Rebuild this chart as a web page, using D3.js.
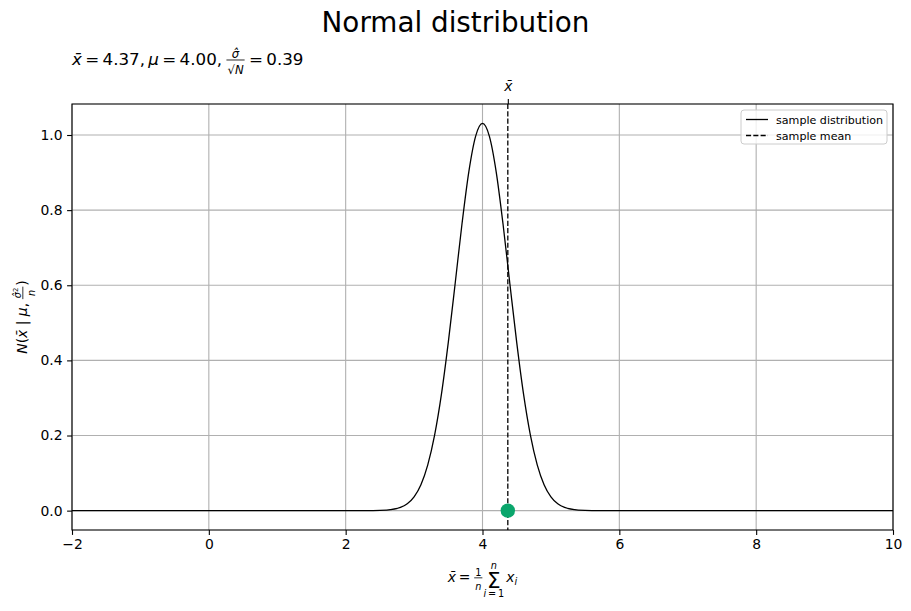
<!DOCTYPE html>
<html>
<head>
<meta charset="utf-8">
<script src="https://cdn.jsdelivr.net/npm/d3@7/dist/d3.min.js"></script>
<style>
  html, body { margin: 0; padding: 0; background: #fff; }
  svg { display: block; font-family: "DejaVu Sans", sans-serif; }
</style>
</head>
<body>
<svg id="chart" width="911" height="611"></svg>
<script>
// ---- data ----
const curveX = [-2, 0, 1, 2, 2.4, 2.6, 2.8, 2.9, 3.0, 3.1, 3.2, 3.3, 3.4, 3.5, 3.6, 3.7, 3.8, 3.9,
                4.0, 4.1, 4.2, 4.3, 4.4, 4.5, 4.6, 4.7, 4.8, 4.9, 5.0, 5.1, 5.2, 5.4, 5.6, 6, 7, 8, 10];
const curveY = [0, 0, 0, 0, 0.0002, 0.0015, 0.0084, 0.0182, 0.0366, 0.069, 0.122, 0.201, 0.310, 0.448, 0.604, 0.763, 0.902, 0.997,
                1.031, 0.997, 0.902, 0.763, 0.604, 0.448, 0.310, 0.201, 0.122, 0.069, 0.0366, 0.0182, 0.0084, 0.0015, 0.0002, 0, 0, 0, 0];
const sampleMean = 4.37;
const xTicks = [-2, 0, 2, 4, 6, 8, 10];
const yTicks = [0.0, 0.2, 0.4, 0.6, 0.8, 1.0];
const legendLabels = ["sample distribution", "sample mean"];

// ---- layout ----
const W = 911, H = 611;
const m = { left: 72, right: 893, top: 104, bottom: 530 };
const svg = d3.select("#chart");

const x = d3.scaleLinear().domain([-2, 10]).range([m.left, m.right]);
const yMax = d3.max(curveY);
const y = d3.scaleLinear().domain([-0.05 * yMax, 1.05 * yMax]).range([m.bottom, m.top]);

// grid
const grid = svg.append("g").attr("stroke", "#b0b0b0").attr("stroke-width", 1.1);
grid.selectAll(".gx").data(xTicks).join("line")
  .attr("x1", d => x(d)).attr("x2", d => x(d)).attr("y1", m.top).attr("y2", m.bottom);
grid.selectAll(".gy").data(yTicks).join("line")
  .attr("y1", d => y(d)).attr("y2", d => y(d)).attr("x1", m.left).attr("x2", m.right);

// clip
svg.append("clipPath").attr("id", "clip").append("rect")
  .attr("x", m.left).attr("y", m.top).attr("width", m.right - m.left).attr("height", m.bottom - m.top);

const plot = svg.append("g").attr("clip-path", "url(#clip)");

const line = d3.line().x((d, i) => x(curveX[i])).y(d => y(d)).curve(d3.curveMonotoneX);
plot.append("path").datum(curveY)
  .attr("d", line).attr("fill", "none").attr("stroke", "#000").attr("stroke-width", 1.3);

plot.append("line")
  .attr("x1", x(sampleMean)).attr("x2", x(sampleMean)).attr("y1", m.top).attr("y2", m.bottom)
  .attr("stroke", "#000").attr("stroke-width", 1.3).attr("stroke-dasharray", "5.1,2.2");

svg.append("circle").attr("cx", x(sampleMean)).attr("cy", y(0)).attr("r", 7.2).attr("fill", "#0aa66c");

// axes
const xAxis = svg.append("g").attr("transform", `translate(0,${m.bottom})`)
  .call(d3.axisBottom(x).tickValues(xTicks).tickSize(4.9).tickPadding(4.5)
    .tickFormat(d => d3.format("d")(d).replace("-", "\u2212")));
const yAxis = svg.append("g").attr("transform", `translate(${m.left},0)`)
  .call(d3.axisLeft(y).tickValues(yTicks).tickSize(4.9).tickPadding(4.5).tickFormat(d3.format(".1f")));
const topAxis = svg.append("g").attr("transform", `translate(0,${m.top})`)
  .call(d3.axisTop(x).tickValues([sampleMean]).tickSize(4.9).tickPadding(8).tickFormat(() => "x\u0304"));
[xAxis, yAxis, topAxis].forEach(a => {
  a.select(".domain").remove();
  a.selectAll("line").attr("stroke", "#000").attr("stroke-width", 1.1);
  a.selectAll("text").attr("font-size", 13.9).attr("fill", "#000").attr("font-family", "DejaVu Sans");
});
topAxis.selectAll("text").attr("font-style", "italic");

svg.append("rect").attr("x", m.left).attr("y", m.top)
  .attr("width", m.right - m.left).attr("height", m.bottom - m.top)
  .attr("fill", "none").attr("stroke", "#000").attr("stroke-width", 1.1);

// ---- simple math-text helper ----
function mathRow(g, x0, base, size, parts) {
  let cx = x0;
  parts.forEach(p => {
    if (typeof p === "string") p = { t: p };
    if (p.frac) {
      const s = size * 0.7;
      const num = g.append("g"), den = g.append("g");
      const wn = mathRow(num, 0, 0, s, p.frac[0]);
      const wd = mathRow(den, 0, 0, s, p.frac[1]);
      const w = Math.max(wn, wd) + 2;
      num.attr("transform", `translate(${cx + 1 + (w - wn) / 2},${base - size * 0.42})`);
      den.attr("transform", `translate(${cx + 1 + (w - wd) / 2},${base + size * 0.55})`);
      g.append("line").attr("x1", cx + 1).attr("x2", cx + 1 + w)
        .attr("y1", base - size * 0.3).attr("y2", base - size * 0.3)
        .attr("stroke", "#000").attr("stroke-width", Math.max(0.8, size * 0.05));
      cx += w + 2;
    } else if (p.op) {
      const s = size * 0.7;
      const ov = g.append("g"), un = g.append("g");
      const wo = mathRow(ov, 0, 0, s, p.over);
      const wu = mathRow(un, 0, 0, s, p.under);
      // big operator drawn as a capital glyph sitting a little under the baseline
      const t = g.append("text").attr("y", base + size * 0.4)
        .attr("font-size", size * 1.55).attr("fill", "#000").text(p.op);
      const w = t.node().getComputedTextLength();
      const full = Math.max(w, wo, wu);
      t.attr("x", cx + (full - w) / 2);
      ov.attr("transform", `translate(${cx + (full - wo) / 2},${base - size * 0.97})`);
      un.attr("transform", `translate(${cx + (full - wu) / 2},${base + size * 1.05})`);
      cx += full + 2;
    } else {
      const t = g.append("text").attr("x", cx).attr("y", base + (p.dy || 0) * size)
        .attr("font-size", size * (p.s || 1)).attr("fill", "#000")
        .attr("font-style", p.it ? "italic" : "normal")
        .attr("xml:space", "preserve").text(p.t);
      cx += t.node().getComputedTextLength();
    }
  });
  return cx - x0;
}

const EQ = "\u2009=\u2009";

// title
svg.append("text").attr("x", W / 2).attr("y", 32).attr("text-anchor", "middle")
  .attr("font-size", 27.8).attr("fill", "#000").text("Normal distribution");

// subtitle
const sub = svg.append("g");
mathRow(sub, m.left, 65, 16.7, [
  { t: "x\u0304", it: true }, EQ + "4.37,\u2009", { t: "\u03bc", it: true }, EQ + "4.00,\u2009",
  { frac: [[{ t: "\u03c3\u0302", it: true }], ["\u221a", { t: "N", it: true }]] }, EQ + "0.39"
]);

// x label
const xl = svg.append("g");
const xlw = mathRow(xl, 0, 0, 13.9, [
  { t: "x\u0304", it: true }, EQ,
  { frac: [["1"], [{ t: "n", it: true }]] },
  { op: "\u03a3", over: [{ t: "n", it: true }], under: [{ t: "i", it: true }, EQ + "1"] },
  { t: "x", it: true }, { t: "i", it: true, s: 0.7, dy: 0.25 }
]);
xl.attr("transform", `translate(${(m.left + m.right) / 2 - xlw / 2},582)`);

// y label
const yl = svg.append("g");
const ylw = mathRow(yl, 0, 0, 13.9, [
  { t: "N", it: true }, "(", { t: "x\u0304", it: true }, " | ", { t: "\u03bc", it: true }, ",\u2009",
  { frac: [[{ t: "\u03c3\u0302", it: true }, { t: "2", s: 0.7, dy: -0.35 }], [{ t: "n", it: true }]] }, ")"
]);
yl.attr("transform", `translate(27,${(m.top + m.bottom) / 2 + ylw / 2}) rotate(-90)`);

// legend
const lg = svg.append("g").attr("transform", "translate(741,110)");
lg.append("rect").attr("width", 146).attr("height", 34).attr("rx", 3)
  .attr("fill", "#fff").attr("fill-opacity", 0.8).attr("stroke", "#cccccc").attr("stroke-width", 1);
legendLabels.forEach((lab, i) => {
  const yy = 9.5 + i * 16;
  lg.append("line").attr("x1", 5).attr("x2", 27).attr("y1", yy).attr("y2", yy)
    .attr("stroke", "#000").attr("stroke-width", 1.3)
    .attr("stroke-dasharray", i === 1 ? "5.1,2.2" : null);
  lg.append("text").attr("x", 35).attr("y", yy + 4).attr("font-size", 11.1).attr("fill", "#000").text(lab);
});
</script>
</body>
</html>
